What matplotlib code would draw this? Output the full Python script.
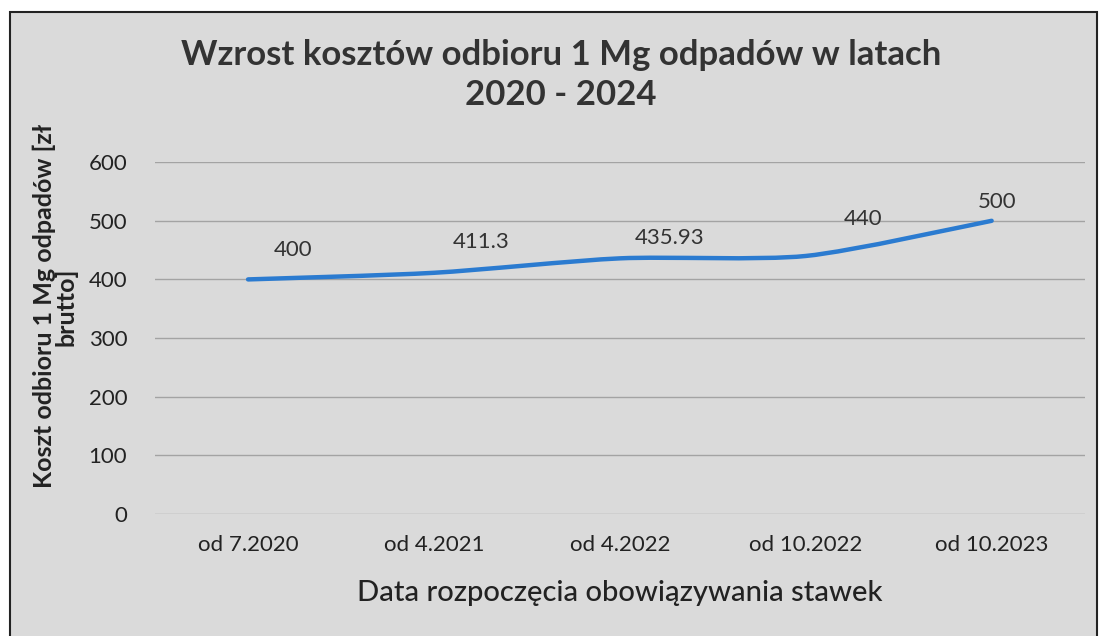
import matplotlib.pyplot as plt
import numpy as np
from matplotlib.patches import Rectangle
from matplotlib.path import Path
from matplotlib.patches import PathPatch

# Koszt odbioru 1 Mg odpadów
categories = ["od 7.2020", "od 4.2021", "od 4.2022", "od 10.2022", "od 10.2023"]
values = [400, 411.3, 435.93, 440, 500]
value_labels = ["400", "411.3", "435.93", "440", "500"]
yticks = [0, 100, 200, 300, 400, 500, 600]

plt.rcParams['font.family'] = ['Lato', 'DejaVu Sans']

fig = plt.figure(figsize=(11, 6.36), dpi=100)
fig.patch.set_facecolor('white')

# grey scanned panel with dark frame
panel = Rectangle((10 / 1100, -0.01), 1087 / 1100, 1 - 12 / 636 + 0.01,
                  transform=fig.transFigure, facecolor='#dadada',
                  edgecolor='#222222', linewidth=1.5, zorder=-5)
fig.add_artist(panel)

ax = fig.add_axes([0.141, 0.192, 0.845, 0.553])
ax.set_facecolor('none')
ax.set_zorder(2)

x = np.arange(len(values))
y = np.array(values, dtype=float)

# smoothed line (Catmull-Rom -> cubic Bezier), like Excel's smooth line
verts = [(x[0], y[0])]
codes = [Path.MOVETO]
n = len(x)
for i in range(n - 1):
    p0 = (x[max(i - 1, 0)], y[max(i - 1, 0)])
    p1 = (x[i], y[i])
    p2 = (x[i + 1], y[i + 1])
    p3 = (x[min(i + 2, n - 1)], y[min(i + 2, n - 1)])
    c1 = (p1[0] + (p2[0] - p0[0]) / 8, p1[1] + (p2[1] - p0[1]) / 8)
    c2 = (p2[0] - (p3[0] - p1[0]) / 8, p2[1] - (p3[1] - p1[1]) / 8)
    verts += [c1, c2, p2]
    codes += [Path.CURVE4] * 3
ax.add_patch(PathPatch(Path(verts, codes), facecolor='none',
                       edgecolor='#2b7bd0', linewidth=3.2,
                       capstyle='round', joinstyle='round', zorder=3))

# label offsets in pixels (position only)
label_dx = [45, 47, 50, 57, 5]
label_dy = [19, 21, 10, 27, 9]
for xi, yi, lab, dx, dy in zip(x, y, value_labels, label_dx, label_dy):
    ax.annotate(lab, (xi, yi), xytext=(dx * 0.72, dy * 0.72),
                textcoords='offset points', ha='center', va='bottom',
                fontsize=16, color='#333333')

ax.set_xlim(-0.5, len(values) - 0.5)
ax.set_ylim(0, 600)
ax.set_yticks(yticks)
ax.set_xticks(x)
ax.set_xticklabels(categories)
ax.grid(axis='y', color='#a3a3a3', linewidth=1)
ax.set_axisbelow(True)
for s in ax.spines.values():
    s.set_visible(False)
ax.tick_params(length=0, labelsize=16, colors='#222222')
ax.tick_params(axis='x', pad=15)
ax.tick_params(axis='y', pad=20)

ax.set_xlabel("Data rozpoczęcia obowiązywania stawek", fontsize=21,
              fontweight='medium', color='#222222', labelpad=18)
ax.set_ylabel("Koszt odbioru 1 Mg odpadów [zł\nbrutto]", fontsize=18,
              fontweight='bold', color='#222222', linespacing=0.95)
ax.yaxis.set_label_coords(-0.083, 0.59)
fig.text(0.51, 0.882, "Wzrost kosztów odbioru 1 Mg odpadów w latach\n2020 - 2024",
         ha='center', va='center', fontsize=25, fontweight='bold',
         color='#333333', linespacing=1.3)

fig.savefig('out.png', dpi=100)
